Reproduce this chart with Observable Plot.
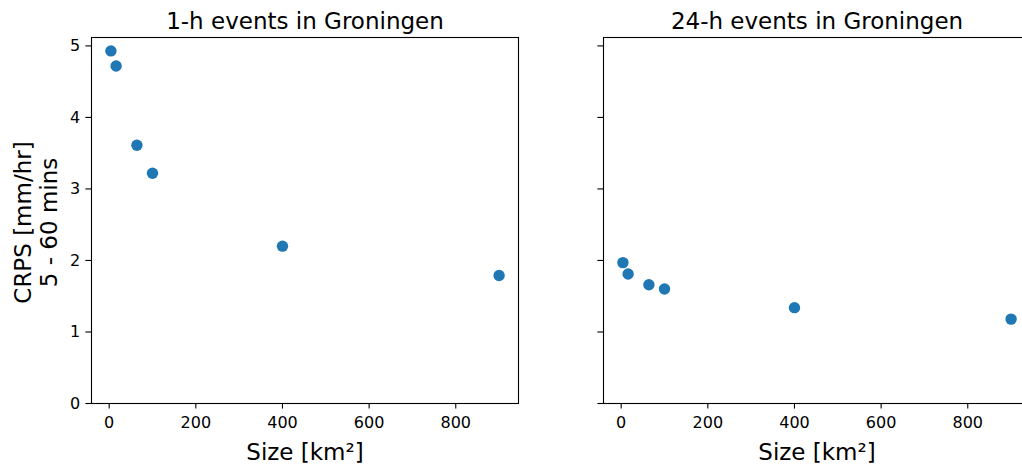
<!DOCTYPE html>
<html><head><meta charset="utf-8">
<script src="https://cdn.jsdelivr.net/npm/d3@7"></script>
<script src="https://cdn.jsdelivr.net/npm/@observablehq/plot@0.6"></script>
<style>
html,body{margin:0;padding:0;background:#fff;}
#wrap{position:relative;width:1022px;height:466px;overflow:hidden;background:#fff;}
#wrap > div{position:absolute;top:0;}
#wrap svg{max-width:none !important;}
</style></head><body>
<div id="wrap"><div id="p1" style="left:0;width:540px"></div><div id="p2" style="left:540px;width:500px"></div></div>
<script>
const sizes = [4, 16, 64, 100, 400, 900];
const crps1h = [4.93, 4.72, 3.61, 3.22, 2.20, 1.79];
const crps24h = [1.97, 1.81, 1.66, 1.60, 1.34, 1.18];
const titles = ["1-h events in Groningen", "24-h events in Groningen"];
const xTicks = [0, 200, 400, 600, 800];
const yTicks = [0, 1, 2, 3, 4, 5];
const xLabel = "Size [km²]";
const yLabel = "CRPS [mm/hr]\n5 - 60 mins";

// matplotlib-like 5% margins
const [xmin, xmax] = d3.extent(sizes);
const xDomain = [xmin - 0.05 * (xmax - xmin), xmax + 0.05 * (xmax - xmin)];
const allY = crps1h.concat(crps24h);
const [ymin, ymax] = d3.extent(allY);
const yDomain = [0, ymax + 0.05 * (ymax - ymin)];

function panel(values, title, {width, marginLeft, marginRight, showYLabels}) {
  const data = sizes.map((s, i) => ({size: s, crps: values[i]}));
  const marks = [
    Plot.frame({stroke: "black", strokeWidth: 1.1}),
    Plot.axisX({ticks: xTicks, tickSize: 5.6, tickPadding: 8, label: null, strokeWidth: 1.1}),
    Plot.axisY({ticks: yTicks, tickSize: 5.6, tickPadding: 5.6, label: null, strokeWidth: 1.1,
      tickFormat: showYLabels ? (d => String(d)) : (() => "")}),
    Plot.dot(data, {x: "size", y: "crps", r: 5.7, fill: "#1f77b4", stroke: null}),
    Plot.text([title], {text: d => d, frameAnchor: "top", lineAnchor: "bottom", dy: -9, fontSize: 23}),
    Plot.text([xLabel], {text: d => d, frameAnchor: "bottom", lineAnchor: "bottom", dy: 56, fontSize: 23})
  ];
  if (showYLabels) {
    marks.push(Plot.text([yLabel], {text: d => d, frameAnchor: "left", rotate: -90, dx: -55.5, dy: 2,
      lineAnchor: "middle", textAnchor: "middle", fontSize: 23, lineHeight: 1.1}));
  }
  return Plot.plot({
    width, height: 466, marginLeft, marginRight, marginTop: 37, marginBottom: 63,
    style: {fontFamily: "'DejaVu Sans', sans-serif", fontSize: "16px", color: "black", background: "white", overflow: "visible"},
    x: {domain: xDomain},
    y: {domain: yDomain},
    marks
  });
}

document.getElementById("p1").appendChild(panel(crps1h, titles[0], {width: 540, marginLeft: 91, marginRight: 22, showYLabels: true}));
document.getElementById("p2").appendChild(panel(crps24h, titles[1], {width: 500, marginLeft: 63, marginRight: 10, showYLabels: false}));
</script>
</body></html>
